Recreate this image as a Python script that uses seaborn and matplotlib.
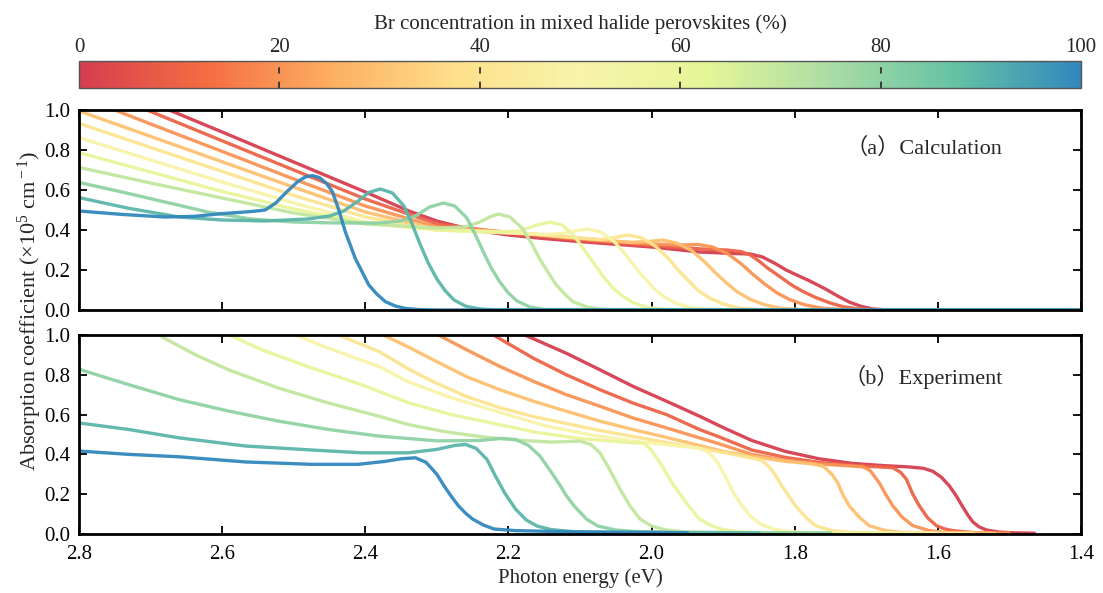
import numpy as np
import pandas as pd
import matplotlib
matplotlib.use("Agg")
import matplotlib.pyplot as plt
import seaborn as sns
from matplotlib.colors import LinearSegmentedColormap, Normalize
from matplotlib.cm import ScalarMappable

# ---------------------------------------------------------------------------
# Br fractions (%) of the mixed-halide series
br_levels = [0, 10, 20, 30, 40, 50, 60, 70, 80, 90, 100]

# ---- (a) calculated absorption spectra: photon energy (eV) / alpha (1e5 cm^-1)
calc_br00_e = [2.674, 2.60, 2.50, 2.40, 2.339, 2.30, 2.25, 2.20, 2.15, 2.10, 2.00, 1.933, 1.89, 1.862, 1.845, 1.827, 1.812, 1.799, 1.78, 1.757, 1.74, 1.724, 1.707, 1.692, 1.67, 1.40]
calc_br00_a = [1.0, 0.89, 0.74, 0.59, 0.495, 0.445, 0.40, 0.375, 0.357, 0.342, 0.315, 0.29, 0.283, 0.28, 0.265, 0.232, 0.20, 0.178, 0.147, 0.105, 0.07, 0.04, 0.018, 0.006, 0.0, 0.0]
calc_br10_e = [2.705, 2.60, 2.50, 2.40, 2.30, 2.20, 2.10, 2.00, 1.93, 1.895, 1.875, 1.862, 1.85, 1.838, 1.82, 1.803, 1.787, 1.771, 1.752, 1.733, 1.71, 1.68, 1.40]
calc_br10_a = [1.0, 0.846, 0.70, 0.555, 0.43, 0.385, 0.35, 0.322, 0.305, 0.30, 0.292, 0.275, 0.245, 0.21, 0.165, 0.122, 0.09, 0.063, 0.037, 0.017, 0.005, 0.0, 0.0]
calc_br20_e = [2.75, 2.70, 2.60, 2.50, 2.40, 2.30, 2.20, 2.10, 2.00, 1.955, 1.936, 1.915, 1.894, 1.875, 1.859, 1.842, 1.825, 1.807, 1.787, 1.762, 1.73, 1.70, 1.40]
calc_br20_a = [1.0, 0.93, 0.793, 0.655, 0.52, 0.415, 0.39, 0.355, 0.33, 0.325, 0.328, 0.315, 0.282, 0.232, 0.18, 0.13, 0.086, 0.052, 0.027, 0.009, 0.002, 0.0, 0.0]
calc_br30_e = [2.80, 2.70, 2.60, 2.50, 2.40, 2.30, 2.20, 2.10, 2.03, 2.002, 1.985, 1.965, 1.945, 1.927, 1.912, 1.896, 1.88, 1.863, 1.844, 1.82, 1.79, 1.76, 1.40]
calc_br30_a = [0.995, 0.868, 0.741, 0.614, 0.49, 0.405, 0.39, 0.36, 0.338, 0.343, 0.35, 0.335, 0.30, 0.245, 0.19, 0.137, 0.09, 0.055, 0.028, 0.009, 0.002, 0.0, 0.0]
calc_br40_e = [2.80, 2.70, 2.60, 2.50, 2.40, 2.30, 2.20, 2.12, 2.07, 2.048, 2.032, 2.013, 1.995, 1.977, 1.963, 1.948, 1.934, 1.918, 1.90, 1.878, 1.85, 1.82, 1.40]
calc_br40_a = [0.933, 0.813, 0.693, 0.573, 0.465, 0.40, 0.39, 0.365, 0.352, 0.365, 0.375, 0.36, 0.32, 0.26, 0.20, 0.145, 0.095, 0.058, 0.03, 0.01, 0.002, 0.0, 0.0]
calc_br50_e = [2.80, 2.70, 2.60, 2.50, 2.40, 2.30, 2.20, 2.15, 2.125, 2.105, 2.089, 2.071, 2.053, 2.037, 2.024, 2.010, 1.996, 1.982, 1.966, 1.945, 1.92, 1.89, 1.40]
calc_br50_a = [0.862, 0.75, 0.64, 0.535, 0.44, 0.40, 0.385, 0.378, 0.383, 0.397, 0.405, 0.39, 0.345, 0.28, 0.22, 0.16, 0.105, 0.065, 0.033, 0.012, 0.003, 0.0, 0.0]
calc_br60_e = [2.80, 2.70, 2.60, 2.50, 2.40, 2.30, 2.22, 2.185, 2.16, 2.142, 2.125, 2.108, 2.093, 2.08, 2.067, 2.054, 2.04, 2.025, 2.005, 1.98, 1.955, 1.40]
calc_br60_a = [0.787, 0.69, 0.593, 0.505, 0.435, 0.40, 0.39, 0.395, 0.425, 0.44, 0.425, 0.37, 0.295, 0.23, 0.165, 0.11, 0.068, 0.035, 0.012, 0.003, 0.0, 0.0]
calc_br70_e = [2.80, 2.70, 2.60, 2.50, 2.40, 2.30, 2.26, 2.24, 2.226, 2.214, 2.198, 2.181, 2.168, 2.157, 2.145, 2.133, 2.121, 2.109, 2.09, 2.07, 2.045, 1.40]
calc_br70_a = [0.713, 0.635, 0.56, 0.485, 0.43, 0.41, 0.415, 0.44, 0.465, 0.48, 0.465, 0.41, 0.335, 0.26, 0.19, 0.125, 0.078, 0.04, 0.015, 0.004, 0.0, 0.0]
calc_br80_e = [2.80, 2.74, 2.68, 2.62, 2.56, 2.50, 2.44, 2.38, 2.35, 2.33, 2.31, 2.291, 2.275, 2.258, 2.246, 2.235, 2.224, 2.212, 2.20, 2.188, 2.17, 2.15, 1.40]
calc_br80_a = [0.638, 0.59, 0.54, 0.49, 0.455, 0.44, 0.435, 0.435, 0.445, 0.47, 0.515, 0.535, 0.52, 0.46, 0.375, 0.29, 0.21, 0.14, 0.085, 0.045, 0.015, 0.003, 0.0]
calc_br90_e = [2.80, 2.73, 2.66, 2.60, 2.54, 2.48, 2.45, 2.43, 2.41, 2.395, 2.379, 2.362, 2.346, 2.334, 2.323, 2.312, 2.30, 2.288, 2.276, 2.259, 2.239, 2.215, 1.40]
calc_br90_a = [0.562, 0.508, 0.465, 0.45, 0.445, 0.455, 0.47, 0.495, 0.545, 0.588, 0.605, 0.585, 0.52, 0.425, 0.325, 0.235, 0.155, 0.095, 0.05, 0.018, 0.005, 0.0, 0.0]
calc_br100_e = [2.80, 2.74, 2.68, 2.64, 2.60, 2.56, 2.54, 2.525, 2.51, 2.495, 2.484, 2.474, 2.464, 2.454, 2.446, 2.437, 2.428, 2.414, 2.395, 2.384, 2.372, 2.358, 2.344, 2.325, 2.30, 1.40]
calc_br100_a = [0.495, 0.478, 0.465, 0.468, 0.482, 0.492, 0.50, 0.535, 0.59, 0.64, 0.665, 0.672, 0.662, 0.632, 0.592, 0.50, 0.392, 0.258, 0.125, 0.08, 0.042, 0.02, 0.008, 0.002, 0.0, 0.0]

# ---- (b) measured absorption spectra
exp_br00_e = [2.177, 2.119, 2.072, 2.026, 1.979, 1.933, 1.90, 1.86, 1.813, 1.766, 1.72, 1.673, 1.64, 1.62, 1.607, 1.595, 1.584, 1.574, 1.565, 1.558, 1.551, 1.542, 1.532, 1.515, 1.495, 1.465]
exp_br00_a = [1.0, 0.908, 0.825, 0.742, 0.667, 0.592, 0.535, 0.47, 0.415, 0.378, 0.355, 0.343, 0.337, 0.33, 0.315, 0.285, 0.242, 0.19, 0.135, 0.095, 0.06, 0.035, 0.02, 0.01, 0.006, 0.004]
exp_br10_e = [2.221, 2.165, 2.119, 2.072, 2.026, 1.979, 1.933, 1.907, 1.86, 1.813, 1.766, 1.72, 1.663, 1.652, 1.644, 1.635, 1.626, 1.614, 1.602, 1.59, 1.579, 1.56, 1.54, 1.50]
exp_br10_a = [1.0, 0.883, 0.80, 0.725, 0.658, 0.60, 0.525, 0.49, 0.422, 0.385, 0.36, 0.345, 0.333, 0.31, 0.275, 0.20, 0.142, 0.08, 0.042, 0.025, 0.017, 0.01, 0.005, 0.004]
exp_br20_e = [2.298, 2.258, 2.212, 2.165, 2.119, 2.072, 2.026, 1.979, 1.933, 1.907, 1.86, 1.813, 1.766, 1.705, 1.695, 1.682, 1.673, 1.663, 1.65, 1.635, 1.612, 1.59, 1.55, 1.50]
exp_br20_a = [1.0, 0.925, 0.842, 0.767, 0.70, 0.642, 0.583, 0.533, 0.483, 0.455, 0.40, 0.37, 0.352, 0.338, 0.32, 0.258, 0.20, 0.142, 0.085, 0.042, 0.017, 0.008, 0.005, 0.004]
exp_br30_e = [2.375, 2.34, 2.305, 2.258, 2.212, 2.165, 2.119, 2.072, 2.026, 1.979, 1.933, 1.90, 1.86, 1.813, 1.775, 1.76, 1.748, 1.74, 1.733, 1.724, 1.71, 1.696, 1.673, 1.65, 1.60, 1.52]
exp_br30_a = [1.0, 0.94, 0.875, 0.79, 0.725, 0.667, 0.617, 0.567, 0.525, 0.485, 0.445, 0.415, 0.39, 0.365, 0.352, 0.34, 0.30, 0.258, 0.20, 0.142, 0.085, 0.042, 0.017, 0.008, 0.005, 0.004]
exp_br40_e = [2.4375, 2.381, 2.34, 2.305, 2.258, 2.212, 2.165, 2.119, 2.072, 2.026, 1.979, 1.933, 1.90, 1.865, 1.846, 1.835, 1.826, 1.818, 1.808, 1.799, 1.785, 1.771, 1.748, 1.72, 1.65, 1.55]
exp_br40_a = [1.0, 0.917, 0.83, 0.765, 0.69, 0.635, 0.59, 0.555, 0.52, 0.49, 0.46, 0.43, 0.41, 0.385, 0.37, 0.335, 0.29, 0.242, 0.19, 0.142, 0.085, 0.042, 0.017, 0.008, 0.005, 0.004]
exp_br50_e = [2.4975, 2.451, 2.381, 2.34, 2.28, 2.22, 2.15, 2.08, 2.02, 1.97, 1.935, 1.92, 1.908, 1.897, 1.886, 1.875, 1.862, 1.848, 1.83, 1.81, 1.78, 1.70, 1.60]
exp_br50_a = [1.0, 0.933, 0.842, 0.765, 0.685, 0.62, 0.545, 0.495, 0.465, 0.445, 0.432, 0.41, 0.36, 0.29, 0.21, 0.15, 0.09, 0.05, 0.025, 0.013, 0.007, 0.005, 0.004]
exp_br60_e = [2.59, 2.544, 2.474, 2.405, 2.34, 2.28, 2.22, 2.16, 2.10, 2.04, 2.01, 2.0, 1.985, 1.972, 1.96, 1.948, 1.933, 1.915, 1.90, 1.88, 1.85, 1.75, 1.65]
exp_br60_a = [1.0, 0.925, 0.833, 0.75, 0.66, 0.60, 0.555, 0.51, 0.48, 0.462, 0.455, 0.42, 0.34, 0.26, 0.20, 0.14, 0.075, 0.04, 0.022, 0.012, 0.007, 0.005, 0.004]
exp_br70_e = [2.684, 2.637, 2.591, 2.521, 2.451, 2.381, 2.34, 2.29, 2.24, 2.19, 2.14, 2.115, 2.10, 2.085, 2.072, 2.058, 2.044, 2.03, 2.016, 2.0, 1.98, 1.95, 1.85, 1.75]
exp_br70_a = [0.99, 0.90, 0.825, 0.733, 0.658, 0.592, 0.55, 0.515, 0.49, 0.472, 0.462, 0.465, 0.467, 0.45, 0.408, 0.32, 0.225, 0.14, 0.075, 0.04, 0.02, 0.01, 0.006, 0.005]
exp_br80_e = [2.80, 2.73, 2.66, 2.59, 2.521, 2.451, 2.381, 2.30, 2.24, 2.21, 2.19, 2.172, 2.156, 2.14, 2.128, 2.119, 2.108, 2.091, 2.075, 2.05, 2.02, 1.95, 1.85, 1.75]
exp_br80_a = [0.828, 0.75, 0.675, 0.617, 0.567, 0.525, 0.492, 0.468, 0.47, 0.48, 0.475, 0.445, 0.392, 0.31, 0.245, 0.192, 0.14, 0.075, 0.04, 0.02, 0.012, 0.008, 0.006, 0.005]
exp_br90_e = [2.80, 2.73, 2.66, 2.567, 2.474, 2.405, 2.34, 2.30, 2.275, 2.26, 2.245, 2.23, 2.218, 2.205, 2.19, 2.175, 2.16, 2.14, 2.11, 2.05, 1.95, 1.85]
exp_br90_a = [0.558, 0.525, 0.483, 0.442, 0.422, 0.408, 0.408, 0.425, 0.445, 0.45, 0.43, 0.375, 0.29, 0.205, 0.125, 0.07, 0.04, 0.022, 0.012, 0.008, 0.006, 0.005]
exp_br100_e = [2.80, 2.73, 2.66, 2.567, 2.474, 2.41, 2.372, 2.35, 2.33, 2.315, 2.30, 2.29, 2.28, 2.27, 2.26, 2.25, 2.235, 2.22, 2.19, 2.10, 2.00, 1.95]
exp_br100_a = [0.417, 0.40, 0.388, 0.362, 0.35, 0.35, 0.365, 0.378, 0.383, 0.36, 0.30, 0.242, 0.19, 0.142, 0.105, 0.075, 0.045, 0.025, 0.017, 0.01, 0.008, 0.006]

calc_curves = [
    (0, calc_br00_e, calc_br00_a), (10, calc_br10_e, calc_br10_a),
    (20, calc_br20_e, calc_br20_a), (30, calc_br30_e, calc_br30_a),
    (40, calc_br40_e, calc_br40_a), (50, calc_br50_e, calc_br50_a),
    (60, calc_br60_e, calc_br60_a), (70, calc_br70_e, calc_br70_a),
    (80, calc_br80_e, calc_br80_a), (90, calc_br90_e, calc_br90_a),
    (100, calc_br100_e, calc_br100_a),
]
exp_curves = [
    (0, exp_br00_e, exp_br00_a), (10, exp_br10_e, exp_br10_a),
    (20, exp_br20_e, exp_br20_a), (30, exp_br30_e, exp_br30_a),
    (40, exp_br40_e, exp_br40_a), (50, exp_br50_e, exp_br50_a),
    (60, exp_br60_e, exp_br60_a), (70, exp_br70_e, exp_br70_a),
    (80, exp_br80_e, exp_br80_a), (90, exp_br90_e, exp_br90_a),
    (100, exp_br100_e, exp_br100_a),
]


def to_frame(curves):
    parts = [pd.DataFrame({"Br": br, "energy": e, "alpha": a}) for br, e, a in curves]
    return pd.concat(parts, ignore_index=True)


calc_df = to_frame(calc_curves)
exp_df = to_frame(exp_curves)

# ---------------------------------------------------------------------------
sns.set_theme(style="ticks")
plt.rcParams["font.family"] = ["Liberation Serif", "Noto Sans CJK SC"]
plt.rcParams["mathtext.fontset"] = "custom"
plt.rcParams["mathtext.rm"] = "Liberation Serif"
plt.rcParams["mathtext.it"] = "Liberation Serif:italic"

spectral9 = ["#d53e4f", "#f46d43", "#fdae61", "#fee08b", "#f8f4aa",
             "#e6f598", "#abdda4", "#66c2a5", "#3288bd"]
cmap = LinearSegmentedColormap.from_list("spectral9", spectral9)
norm = Normalize(0, 100)
palette = {br: cmap(norm(br)) for br in br_levels}

fig = plt.figure(figsize=(11.03, 5.93), dpi=100)
left, width = 79 / 1103, 1002 / 1103
ax_top = fig.add_axes([left, 1 - 310 / 593, width, 200 / 593])
ax_bot = fig.add_axes([left, 1 - 534 / 593, width, 199 / 593])
cax = fig.add_axes([left, 1 - 88 / 593, width, 27 / 593])

for ax, df in ((ax_top, calc_df), (ax_bot, exp_df)):
    sns.lineplot(data=df, x="energy", y="alpha", hue="Br", hue_order=br_levels,
                 palette=palette, estimator=None, linewidth=2.4, alpha=0.95,
                 legend=False, ax=ax)
    ax.set_xlim(2.8, 1.4)
    ax.set_ylim(0.0, 1.0)
    ax.set_xticks([2.8, 2.6, 2.4, 2.2, 2.0, 1.8, 1.6, 1.4])
    ax.set_yticks([0.0, 0.2, 0.4, 0.6, 0.8, 1.0])
    ax.yaxis.set_major_formatter(matplotlib.ticker.FormatStrFormatter("%.1f"))
    ax.xaxis.set_major_formatter(matplotlib.ticker.FormatStrFormatter("%.1f"))
    ax.tick_params(axis="both", which="both", direction="in", top=True,
                   right=True, length=6, width=1.3, labelsize=15, pad=6,
                   colors="black")
    for sp in ax.spines.values():
        sp.set_linewidth(2.0)
        sp.set_color("black")
    ax.set_ylabel("")
    ax.set_xlabel("")

ax_top.tick_params(labelbottom=False)
ax_bot.tick_params(axis="x", pad=8)
ax_bot.set_xlabel("Photon energy (eV)", fontsize=15, labelpad=3)

ax_top.text(0.922, 0.81, "（a）Calculation", transform=ax_top.transAxes,
            ha="right", va="center", fontsize=16)
ax_bot.text(0.922, 0.79, "（b）Experiment", transform=ax_bot.transAxes,
            ha="right", va="center", fontsize=16)

fig.text(0.027, 0.475, r"Absorption coefficient (×10$^{5}$ cm$^{\rm -1}$)",
         rotation=90, ha="center", va="center", fontsize=16)

# colour bar for the Br fraction
cb = fig.colorbar(ScalarMappable(norm=norm, cmap=cmap), cax=cax,
                  orientation="horizontal")
cb.set_ticks([0, 20, 40, 60, 80, 100])
cax.xaxis.set_ticks_position("top")
cax.xaxis.set_label_position("top")
cax.tick_params(length=0, labelsize=15, pad=3)
cb.set_label("Br concentration in mixed halide perovskites (%)", fontsize=15,
             labelpad=6)
cb.outline.set_edgecolor("#555555")
cb.outline.set_linewidth(1.0)
for v in (20, 40, 60, 80):
    cax.axvline(v, color="#333333", lw=1.3, ls=(0, (3.5, 4.5)))

fig.savefig("out.png", dpi=100)
